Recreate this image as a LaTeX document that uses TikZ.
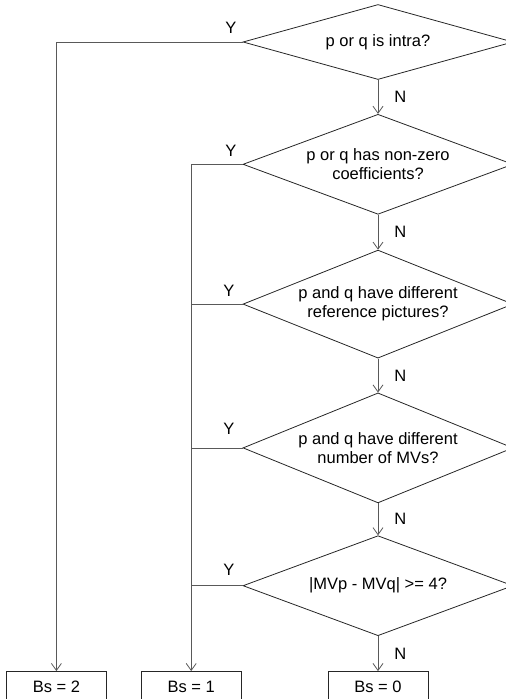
\documentclass[tikz,border=0pt]{standalone}
\usepackage{fontspec}
\setmainfont{Liberation Sans}
\usetikzlibrary{shapes.geometric, arrows.meta, positioning}
\tikzset{
  decision/.style={diamond, draw=black!85, line width=0.8pt, inner sep=0pt,
                   minimum width=270pt, minimum height=#1, shape aspect=2.7,
                   align=center},
  decision/.default=100pt,
  result/.style={rectangle, draw=black!85, line width=0.8pt,
                 minimum width=100pt, minimum height=30pt},
  arrow/.style={-{Straight Barb[length=7pt, width=10pt]}, draw=black!65,
                line width=0.8pt},
  link/.style={draw=black!65, line width=0.8pt},
  ylab/.style={inner sep=0pt},
  nlab/.style={inner sep=0pt},
}

\begin{document}
\begin{tikzpicture}[x=1pt, y=1pt, font=\fontsize{16.5}{19}\selectfont]

\useasboundingbox (0,0) rectangle (506,-699);
\clip (0,0) rectangle (506,-699);

% ── decisions ────────────────────────────────────────────────────────────────
\node[decision=75pt, shape aspect=3.6] (d1) at (378,-42) {p or q is intra?};
\node[decision=100pt, below=34pt of d1] (d2)
  {p or q has non-zero\\coefficients?};
\node[decision=108pt, below=35pt of d2] (d3)
  {p and q have different\\reference pictures?};
\node[decision=110pt, below=34pt of d3] (d4)
  {p and q have different\\number of MVs?};
\node[decision=100pt, below=32pt of d4] (d5)
  {|MVp - MVq| >= 4?};

% ── results ──────────────────────────────────────────────────────────────────
\node[result, below=35pt of d5] (b0) {Bs = 0};
\node[result, left=86pt of b0] (b1) {Bs = 1};
\node[result, left=34pt of b1] (b2) {Bs = 2};

% ── N branches ───────────────────────────────────────────────────────────────
\draw[arrow] (d1) -- node[nlab, midway, right=16pt] (n1) {N} (d2);
\draw[arrow] (d2) -- node[nlab, midway, right=16pt] (n2) {N} (d3);
\draw[arrow] (d3) -- node[nlab, midway, right=16pt] (n3) {N} (d4);
\draw[arrow] (d4) -- node[nlab, midway, right=16pt] (n4) {N} (d5);
\draw[arrow] (d5) -- node[nlab, midway, right=16pt] (n5) {N} (b0);

% ── Y branches ───────────────────────────────────────────────────────────────
\draw[arrow] (d1.west) -- (d1.west -| b2) -- (b2);
\draw[arrow] (d2.west) -- (d2.west -| b1) -- (b1);
\draw[link] (d3.west) -- (d3.west -| b1);
\draw[link] (d4.west) -- (d4.west -| b1);
\draw[link] (d5.west) -- (d5.west -| b1);

\node[ylab, above left=8pt and 6pt of d1.west] (y1) {Y};
\node[ylab, above left=8pt and 6pt of d2.west] (y2) {Y};
\node[ylab, above left=7pt and 8pt of d3.west] (y3) {Y};
\node[ylab, above left=13pt and 8pt of d4.west] (y4) {Y};
\node[ylab, above left=10pt and 8pt of d5.west] (y5) {Y};

\end{tikzpicture}
\end{document}
